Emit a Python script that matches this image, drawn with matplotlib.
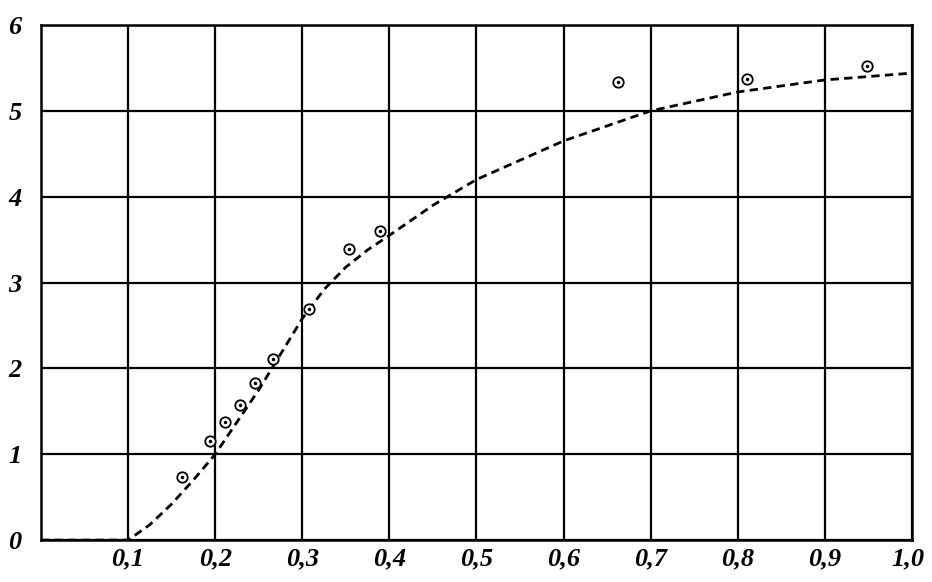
import matplotlib.pyplot as plt
import matplotlib.transforms as mtransforms

# measured points (circles)
pts_x = [0.162, 0.194, 0.211, 0.228, 0.246, 0.266, 0.308, 0.354, 0.389, 0.662, 0.811, 0.948]
pts_y = [0.73, 1.15, 1.37, 1.57, 1.83, 2.11, 2.69, 3.39, 3.60, 5.34, 5.37, 5.52]

# dashed curve
curve_x = [0.0, 0.1, 0.125, 0.15, 0.175, 0.2, 0.25, 0.3, 0.325, 0.35, 0.375, 0.4, 0.45, 0.5, 0.6, 0.7, 0.8, 0.9, 1.0]
curve_y = [0.0, 0.0, 0.18, 0.42, 0.70, 1.0, 1.75, 2.58, 2.92, 3.18, 3.38, 3.55, 3.9, 4.2, 4.65, 5.0, 5.22, 5.36, 5.44]

x_ticks = [0.1, 0.2, 0.3, 0.4, 0.5, 0.6, 0.7, 0.8, 0.9, 1.0]
x_labels = ["0,1", "0,2", "0,3", "0,4", "0,5", "0,6", "0,7", "0,8", "0,9", "1,0"]
y_ticks = [0, 1, 2, 3, 4, 5, 6]
y_labels = ["0", "1", "2", "3", "4", "5", "6"]

fig = plt.figure(figsize=(9.32, 5.82), dpi=100)
ax = fig.add_axes([0.044, 0.072, 0.9345, 0.885])

ax.plot(curve_x, curve_y, color="black", lw=2.0, linestyle=(0, (3.0, 1.9)), zorder=3)
ax.plot(pts_x, pts_y, linestyle="none", marker="o", markersize=7.5,
        markerfacecolor="white", markeredgecolor="black", markeredgewidth=1.3, zorder=4)
ax.plot(pts_x, pts_y, linestyle="none", marker="o", markersize=1.5,
        color="black", zorder=5)

ax.set_xlim(0, 1.0)
ax.set_ylim(0, 6)
ax.set_xticks(x_ticks)
ax.set_xticklabels(x_labels)
ax.set_yticks(y_ticks)
ax.set_yticklabels(y_labels)

ax.grid(True, color="black", lw=1.6)
ax.set_axisbelow(True)
for s in ax.spines.values():
    s.set_linewidth(1.8)

ax.tick_params(length=0)
for lab in ax.get_xticklabels() + ax.get_yticklabels():
    lab.set_fontfamily("Liberation Serif")
    lab.set_fontstyle("italic")
    lab.set_fontweight("bold")
    lab.set_fontsize(19)
ax.tick_params(axis="x", pad=5)
ax.tick_params(axis="y", pad=14)

# keep "1,0" inside the picture
last = ax.get_xticklabels()[-1]
last.set_transform(last.get_transform() +
                   mtransforms.ScaledTranslation(-4 / 100, 0, fig.dpi_scale_trans))

fig.savefig("out.png", dpi=100)
